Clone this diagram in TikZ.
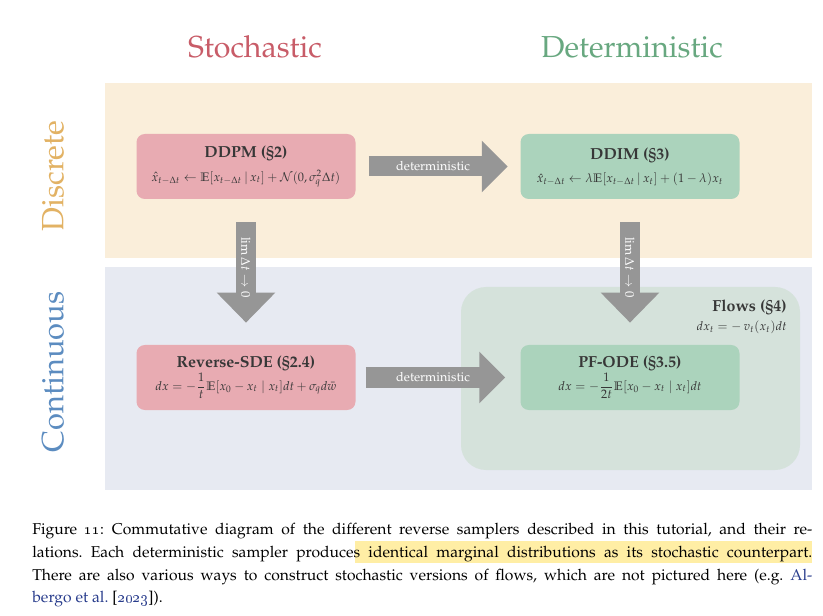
\documentclass[tikz,border=0pt]{standalone}
\usepackage[T1]{fontenc}
\usepackage{amsmath, amssymb}
\usepackage{mathpazo}
\usepackage{xcolor}
\usepackage{tikz}
\usetikzlibrary{arrows.meta}
\definecolor{discretebg}{RGB}{250,238,218}
\definecolor{continuousbg}{RGB}{231,234,242}
\definecolor{flowsbg}{RGB}{213,226,219}
\definecolor{stochpink}{RGB}{232,171,178}
\definecolor{detgreen}{RGB}{171,211,188}
\definecolor{stochred}{RGB}{200,92,104}
\definecolor{detdark}{RGB}{104,168,128}
\definecolor{discretetan}{RGB}{226,178,100}
\definecolor{contblue}{RGB}{92,140,192}
\definecolor{arrowgray}{RGB}{150,150,150}
\definecolor{boxtext}{RGB}{55,55,55}
\definecolor{linkblue}{RGB}{40,60,140}
\definecolor{hilite}{RGB}{255,238,165}
\newcommand{\formsize}{\fontsize{7.4}{9}\selectfont}

\begin{document}
\begin{tikzpicture}[x=0.6pt, y=-0.6pt,
  box/.style={rounded corners=5pt, minimum width=131.4pt, minimum height=39pt, inner sep=0pt, align=center, text=boxtext, font=\fontsize{9.6}{11}\selectfont},
  stochbox/.style={box, fill=stochpink},
  detbox/.style={box, fill=detgreen},
  fathoriz/.style={draw=arrowgray, line width=12pt, -{Triangle[length=15.5pt, width=30pt]}},
  fatvert/.style={draw=arrowgray, line width=11.5pt, -{Triangle[length=18pt, width=34pt]}},
  arrlabel/.style={font=\fontsize{7.6}{9}\selectfont, text=white},
  heading/.style={font=\fontsize{18.2}{20}\selectfont},
  sidelabel/.style={font=\fontsize{18.5}{20}\selectfont, rotate=90}]
  \useasboundingbox (0,0) rectangle (823,616);

  % bands
  \fill[discretebg] (105,83) rectangle (812,258);
  \fill[continuousbg] (105,267) rectangle (812,490);
  \fill[flowsbg, rounded corners=15pt] (461,287) rectangle (800,470);

  \node[heading, text=stochred] (stoch) at (255,47) {Stochastic};
  \node[heading, text=detdark] (det) at (632,47) {Deterministic};
  \node[sidelabel, text=discretetan] (discrete) at (53,176) {Discrete};
  \node[sidelabel, text=contblue] (cont) at (53,372) {Continuous};

  \node[stochbox] (ddpm) at (246,166.5) {\textbf{DDPM (\S2)}\\[3pt]
    \formsize$\hat{x}_{t-\Delta t} \leftarrow \mathbb{E}[x_{t-\Delta t}\,|\,x_t] + \mathcal{N}(0,\sigma_q^2\Delta t)$};
  \node[detbox] (ddim) at (630,166.5) {\textbf{DDIM (\S3)}\\[3pt]
    \formsize$\hat{x}_{t-\Delta t} \leftarrow \lambda\mathbb{E}[x_{t-\Delta t}\,|\,x_t] + (1-\lambda)x_t$};
  \node[stochbox] (rsde) at (246,377.5) {\textbf{Reverse-SDE (\S2.4)}\\
    \formsize$dx = -\dfrac{1}{t}\mathbb{E}[x_0 - x_t \mid x_t]dt + \sigma_q d\bar{w}$};
  \node[detbox] (pfode) at (630,377.5) {\textbf{PF-ODE (\S3.5)}\\
    \formsize$dx = -\dfrac{1}{2t}\mathbb{E}[x_0 - x_t \mid x_t]dt$};
  \node[anchor=north east, align=right, text=boxtext, inner sep=0pt, font=\fontsize{9.6}{11}\selectfont] (flows) at (787,300)
    {\textbf{Flows (\S4)}\\ \formsize$dx_t = -\,v_t(x_t)dt$};

  \draw[fathoriz, shorten <=7.8pt, shorten >=7.5pt] (ddpm.east) -- node[arrlabel, pos=0.47]{deterministic} (ddim.west);
  \draw[fathoriz, shorten <=6pt, shorten >=9pt] (rsde.east) -- node[arrlabel, pos=0.47]{deterministic} (pfode.west);
  \draw[fatvert, shorten <=13.8pt, shorten >=13.2pt] (ddpm.south) -- node[arrlabel, rotate=-90, pos=0.47]{$\lim \Delta t \to 0$} (rsde.north);
  \draw[fatvert, shorten <=13.8pt, shorten >=13.2pt] (ddim.south) -- node[arrlabel, rotate=-90, pos=0.47]{$\lim \Delta t \to 0$} (pfode.north);

  % caption
  \fill[hilite] (355,541) rectangle (812,563);
  \node[anchor=north west, text width=468pt, align=justify, inner sep=0pt,
    font=\fontsize{9.4}{13.6}\selectfont] (caption) at (32,523)
    {\frenchspacing Figure \oldstylenums{11}: Commutative diagram of the different reverse samplers described in this tutorial, and their re-\linebreak
    lations. Each deterministic sampler produces identical marginal distributions as its stochastic counterpart.\linebreak
    There are also various ways to construct stochastic versions of flows, which are not pictured here (e.g. \textcolor{linkblue}{Al-}\linebreak
    \textcolor{linkblue}{bergo et al.} [\textcolor{linkblue}{\oldstylenums{2023}}]).};
\end{tikzpicture}
\end{document}
